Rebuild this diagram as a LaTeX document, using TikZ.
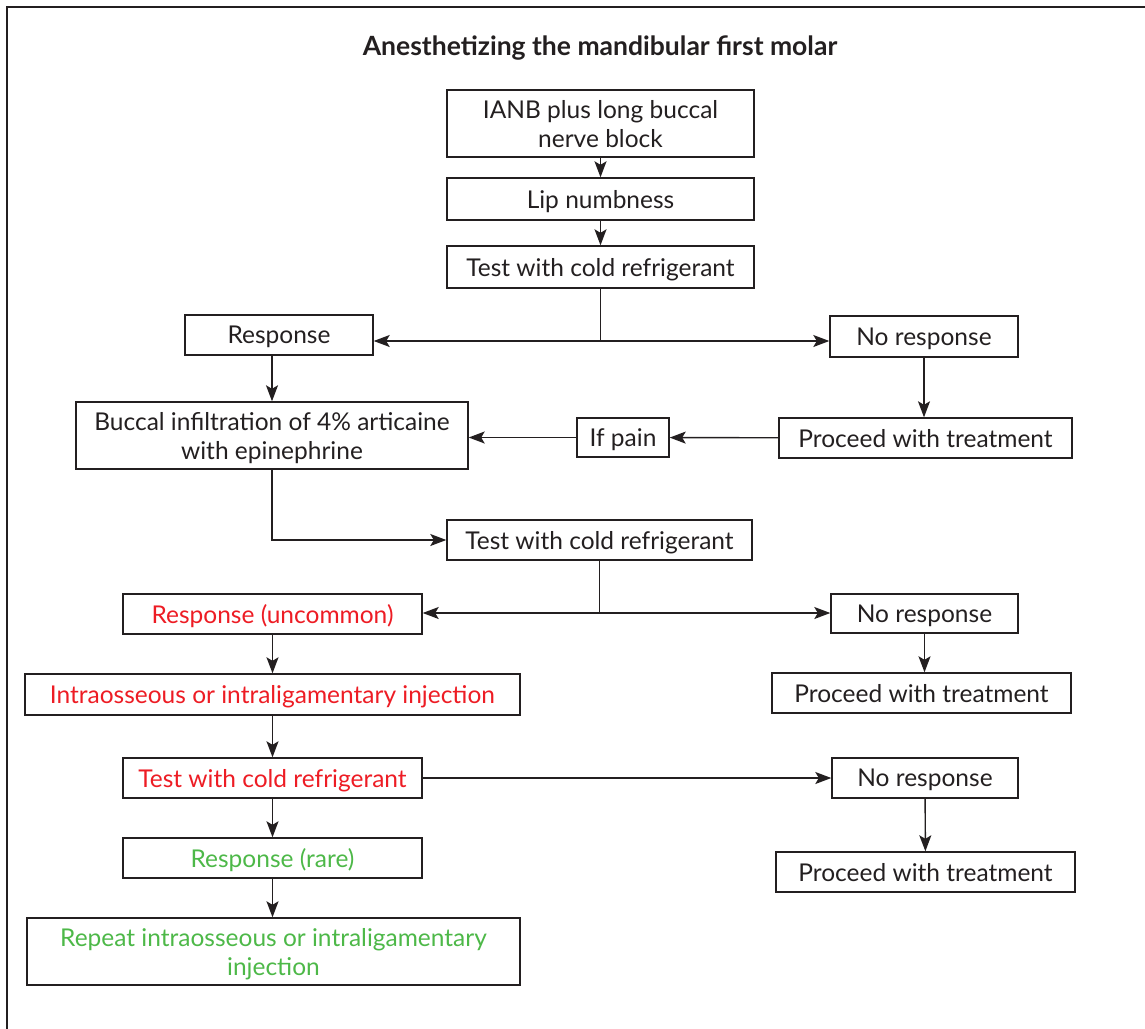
\documentclass[tikz,border=0pt]{standalone}
\usepackage{fontspec}
\setmainfont{Lato}
\usetikzlibrary{arrows.meta}
\definecolor{redt}{RGB}{237,28,36}
\definecolor{greent}{RGB}{77,184,72}
\definecolor{linec}{RGB}{35,31,32}
\tikzset{
  box/.style={draw=linec, line width=1.4pt, inner sep=0pt, align=center,
    font=\fontsize{24.5}{29}\selectfont, text=linec, text depth=0pt},
  arr/.style={draw=linec, line width=1.4pt, -{Stealth[length=16pt,width=12pt,inset=3.5pt]}},
  ln/.style={draw=linec, line width=1.4pt},
}
\begin{document}
\begin{tikzpicture}[x=1pt,y=-1pt]
\useasboundingbox (0,0) rectangle (1145,1028);
\draw[line width=1.5pt, draw=linec] (7,1030) -- (7,7) -- (1147,7);
\node[font=\bfseries\fontsize{26.5}{30}\selectfont, text=linec] (title) at (600,48) {Anesthetizing the mandibular first molar};
\node[box, minimum width=307pt, minimum height=67pt] (b1) at (600.5,123.5) {IANB plus long buccal\\nerve block};
\node[box, minimum width=307pt, minimum height=42pt] (b2) at (600.5,199) {Lip numbness};
\node[box, minimum width=307pt, minimum height=42pt] (b3) at (600.5,267) {Test with cold refrigerant};
\node[box, minimum width=188pt, minimum height=40pt] (r1) at (279,335) {Response};
\node[box, minimum width=188pt, minimum height=41pt] (n1) at (924,336.5) {No response};
\node[box, minimum width=392pt, minimum height=67pt] (bi) at (272,435.5) {Buccal infiltration of 4\% articaine\\with epinephrine};
\node[box, minimum width=92pt, minimum height=39pt] (ip) at (623,437.5) {If pain};
\node[box, minimum width=293pt, minimum height=40pt] (p1) at (925.5,438) {Proceed with treatment};
\node[box, minimum width=305pt, minimum height=40pt] (t2) at (599.5,540) {Test with cold refrigerant};
\node[box, minimum width=299pt, minimum height=40pt, text=redt] (r2) at (272.5,614) {Response (uncommon)};
\node[box, minimum width=187pt, minimum height=39pt] (n2) at (924.5,613.5) {No response};
\node[box, minimum width=299pt, minimum height=40pt] (p2) at (921.5,693) {Proceed with treatment};
\node[box, minimum width=495pt, minimum height=41pt, text=redt] (io) at (272.5,694.5) {Intraosseous or intraligamentary injection};
\node[box, minimum width=299pt, minimum height=40pt, text=redt] (t3) at (272.5,778) {Test with cold refrigerant};
\node[box, minimum width=186pt, minimum height=40pt] (n3) at (925,778) {No response};
\node[box, minimum width=299pt, minimum height=40pt] (p3) at (925.5,872) {Proceed with treatment};
\node[box, minimum width=299pt, minimum height=40pt, text=greent] (r3) at (272.5,858) {Response (rare)};
\node[box, minimum width=493pt, minimum height=67pt, text=greent] (rp) at (273.5,951.5) {Repeat intraosseous or intraligamentary\\injection};
% connectors
\draw[arr] (b1) -- (b2);
\draw[arr] (b2) -- (b3);
\coordinate (j1) at (600.5,341);
\draw[ln] (b3.south) -- (j1);
\draw[arr] (j1) -- (j1 -| r1.east);
\draw[arr] (j1) -- (j1 -| n1.west);
\draw[arr] (bi.north |- r1.south) -- (bi.north);
\draw[arr] (n1) -- (n1 |- p1.north);
\draw[arr] (p1) -- (ip);
\draw[arr] (ip.west) -- (ip.west -| bi.east);
\draw[arr] (bi.south) |- (t2.west);
\coordinate (j2) at (599.5,613);
\draw[ln] (t2.south) -- (j2);
\draw[arr] (j2) -- (j2 -| r2.east);
\draw[arr] (j2) -- (j2 -| n2.west);
\draw[arr] (n2) -- (n2 |- p2.north);
\draw[arr] (r2) -- (io);
\draw[arr] (io) -- (t3);
\draw[arr] (t3) -- (t3 -| n3.west);
\draw[arr] (n3) -- (p3);
\draw[arr] (t3) -- (r3);
\draw[arr] (r3.south) -- (r3.south |- rp.north);
\end{tikzpicture}
\end{document}
